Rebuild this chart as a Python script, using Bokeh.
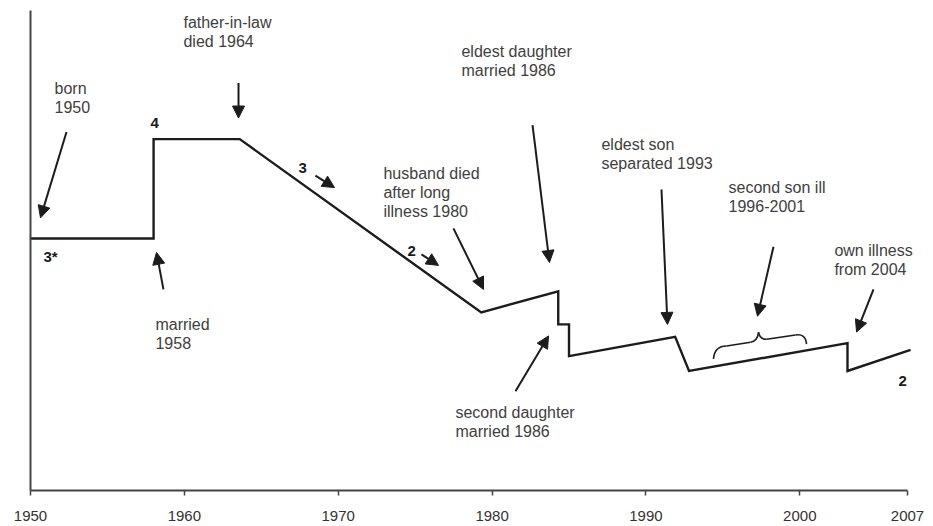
from bokeh.plotting import figure
from bokeh.models import Arrow, NormalHead, FixedTicker, Range1d, Label
from bokeh.embed import file_html
from bokeh.resources import INLINE

# ---- trajectory data (year, wellbeing score 0-100) ----
years = [1950, 1958, 1958, 1963.6, 1979.3, 1984.3, 1984.3, 1985.0, 1985.0, 1991.9, 1992.8, 2003.1, 2003.1, 2007.2]
scores = [52.5, 52.5, 73.2, 73.2, 37.1, 41.5, 34.6, 34.6, 28.0, 32.0, 24.9, 30.7, 24.9, 29.3]

tick_years = [1950, 1960, 1970, 1980, 1990, 2000, 2007]

# ---- event annotations ----
event_text = ["born\n1950", "father-in-law\ndied 1964", "husband died\nafter long\nillness 1980",
              "eldest daughter\nmarried 1986", "eldest son\nseparated 1993", "second son ill\n1996-2001",
              "own illness\nfrom 2004", "married\n1958", "second daughter\nmarried 1986"]
event_x = [1951.56, 1959.94, 1972.94, 1978.01, 1987.11, 1995.37, 2002.25, 1958.12, 1977.62]
event_y = [85.5, 99.2, 67.8, 93.2, 73.9, 64.9, 51.7, 36.3, 18.0]

# ---- rating labels ----
rating_text = ["4", "3", "2", "3*", "2"]
rating_x = [1957.80, 1967.42, 1974.50, 1950.84, 2006.41]
rating_y = [76.6, 67.2, 50.0, 48.8, 22.8]

# ---- arrows (tail -> tip) ----
arrow_x0 = [1952.34, 1963.52, 1958.64, 1968.52, 1975.41, 1977.49, 1982.63, 1981.52, 1991.01, 1998.29, 2004.79]
arrow_y0 = [74.7, 84.9, 41.9, 65.6, 49.2, 54.6, 76.1, 20.7, 62.7, 50.8, 41.9]
arrow_x1 = [1950.65, 1963.52, 1958.19, 1969.76, 1976.52, 1979.44, 1983.73, 1983.67, 1991.40, 1997.25, 2003.69]
arrow_y1 = [56.8, 77.6, 49.6, 63.1, 46.9, 41.9, 47.5, 32.2, 34.6, 36.3, 33.0]

# ---- brace over 1996-2001 (quadratic pieces and straight pieces) ----
bq_x0 = [1994.39, 1996.80, 1997.32, 1999.72]
bq_y0 = [27.4, 30.9, 33.0, 32.4]
bq_cx = [1994.46, 1997.25, 1997.38, 2000.37]
bq_cy = [30.1, 31.1, 31.5, 32.8]
bq_x1 = [1995.24, 1997.32, 1997.84, 2000.44]
bq_y1 = [30.1, 33.0, 31.5, 30.5]
bs_x0 = [1995.24, 1997.84]
bs_y0 = [30.1, 31.5]
bs_x1 = [1996.80, 1999.72]
bs_y1 = [30.9, 32.4]

INK = "#1c1c1c"
TXT = "#404040"
FONT = "Liberation Sans"

p = figure(width=925, height=526, output_backend="svg", toolbar_location=None,
           x_range=Range1d(1950, 2008.17), y_range=Range1d(0, 100),
           min_border_left=30, min_border_right=0, min_border_top=10, min_border_bottom=36)
p.outline_line_color = None
p.xgrid.visible = False
p.ygrid.visible = False
p.background_fill_color = "white"
p.border_fill_color = "white"

# axes
p.xaxis.ticker = FixedTicker(ticks=tick_years)
p.xaxis.bounds = (1950, 2007)
p.xaxis.axis_line_color = "#444444"
p.xaxis.axis_line_width = 2
p.xaxis.major_tick_line_color = "#444444"
p.xaxis.major_tick_line_width = 1.5
p.xaxis.major_tick_out = 5
p.xaxis.major_tick_in = 0
p.xaxis.minor_tick_line_color = None
p.xaxis.major_label_standoff = 15
p.xaxis.major_label_text_font = FONT
p.xaxis.major_label_text_font_size = "15px"
p.xaxis.major_label_text_color = "#333333"

p.yaxis.ticker = FixedTicker(ticks=[])
p.yaxis.axis_line_color = "#444444"
p.yaxis.axis_line_width = 2
p.yaxis.major_tick_line_color = None
p.yaxis.minor_tick_line_color = None
p.yaxis.major_tick_out = 0
p.yaxis.major_label_standoff = 0
p.yaxis.major_label_text_font_size = "0px"

# trajectory
p.line(years, scores, line_color=INK, line_width=2.4, line_join="miter")

# brace
p.quadratic(x0=bq_x0, y0=bq_y0, cx=bq_cx, cy=bq_cy, x1=bq_x1, y1=bq_y1, line_color=INK, line_width=1.6)
p.segment(x0=bs_x0, y0=bs_y0, x1=bs_x1, y1=bs_y1, line_color=INK, line_width=1.6)

# arrows
for xs, ys, xe, ye in zip(arrow_x0, arrow_y0, arrow_x1, arrow_y1):
    p.add_layout(Arrow(end=NormalHead(size=12, fill_color=INK, line_color=INK, line_width=1),
                       x_start=xs, y_start=ys, x_end=xe, y_end=ye,
                       line_color=INK, line_width=2))

# event texts
for t, xx, yy in zip(event_text, event_x, event_y):
    p.add_layout(Label(x=xx, y=yy, text=t, text_font=FONT, text_font_size="16px",
                       text_color=TXT, text_align="left", text_baseline="top",
                       text_line_height=1.12))

# rating labels
for t, xx, yy in zip(rating_text, rating_x, rating_y):
    p.add_layout(Label(x=xx, y=yy, text=t, text_font=FONT, text_font_size="15px",
                       text_font_style="bold", text_color="#1a1a1a",
                       text_align="left", text_baseline="middle"))

open("out.html", "w").write(file_html(p, INLINE))
